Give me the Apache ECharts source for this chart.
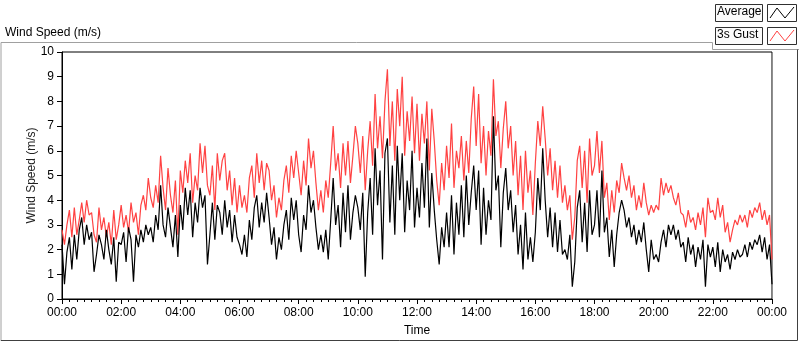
<!DOCTYPE html>
<html>
<head>
<meta charset="utf-8">
<script src="https://cdn.jsdelivr.net/npm/echarts@6/dist/echarts.min.js"></script>
<style>
  html, body { margin: 0; padding: 0; background: #fff; }
  #chart { width: 800px; height: 342px; }
</style>
</head>
<body>
<div id="chart"></div>
<script>
  // one sample every 5 minutes, 00:00 .. 24:00
  var stepMinutes = 5;

  var gust = [
    2.8, 2.2, 3.0, 3.6, 2.5, 3.7, 2.6, 3.2, 3.9, 3.1, 4.0, 3.4,
    3.5, 2.6, 2.3, 3.7, 2.8, 3.3, 2.5, 3.1, 2.2, 3.6, 2.4, 3.0,
    3.8, 2.9, 3.4, 2.7, 3.9, 3.1, 3.5, 2.6, 3.8, 4.2, 3.6, 4.9,
    4.1, 3.7, 4.6, 3.9, 5.8, 4.5, 3.6, 5.3, 4.2, 3.5, 4.8, 2.6,
    5.2, 4.3, 5.6, 4.7, 5.9, 3.9, 5.0, 4.4, 6.3, 5.1, 6.2, 4.6,
    4.2, 5.4, 3.6, 5.9, 4.8, 5.6, 5.9, 4.4, 5.2, 3.8, 4.9, 3.5,
    4.6, 3.7, 4.2, 3.5, 4.9, 5.4, 4.1, 5.9, 4.7, 5.6, 4.4, 5.5,
    5.2, 4.0, 4.6, 3.3, 4.1, 3.6, 4.8, 5.4, 4.3, 5.8, 4.9, 6.0,
    5.1, 4.2, 5.6, 4.6, 6.5, 5.3, 6.0, 4.7, 3.6, 4.4, 3.5, 4.8,
    4.1, 5.5, 7.0, 5.2, 5.9, 4.5, 6.3, 5.0, 6.4, 4.7, 5.8, 7.0,
    6.3, 5.1, 6.6, 4.4, 6.0, 7.2, 5.4, 8.3, 6.1, 7.4, 5.7, 8.0,
    9.3, 6.2, 8.0, 5.6, 8.5, 7.0, 9.0, 5.8, 7.6, 6.4, 8.2, 5.9,
    7.9, 5.6, 7.5, 6.3, 8.0, 5.2, 7.7, 6.4, 4.8, 3.8, 5.5, 4.4,
    6.2, 4.9, 7.1, 4.5, 6.0, 5.3, 6.6, 4.8, 6.4, 5.1, 7.3, 8.6,
    6.2, 8.3, 5.5, 7.0, 5.0, 6.8, 5.8, 8.9, 6.6, 7.2, 5.3, 6.9,
    8.0, 6.1, 7.0, 5.0, 6.4, 4.2, 5.8, 3.6, 6.0, 4.3, 5.2, 3.4,
    5.5, 7.2, 6.2, 7.8, 6.5, 5.0, 6.1, 4.4, 5.6, 4.1, 5.4, 3.9,
    4.6, 3.6, 4.2, 2.4, 3.3, 5.6, 6.2, 4.5, 6.0, 3.9, 6.5, 5.0,
    5.4, 6.8, 5.1, 6.4, 4.1, 4.7, 3.2, 4.4, 3.5, 4.8, 4.3, 5.5,
    4.9, 4.4, 5.0, 4.1, 4.6, 3.6, 4.2, 3.7, 4.7, 3.9, 3.4, 3.8,
    3.5, 3.8, 3.6, 4.9, 4.2, 4.7, 4.3, 4.6, 4.1, 3.8, 4.3, 3.5,
    3.4, 2.9, 3.6, 3.1, 3.3, 2.8, 3.5, 3.0, 3.7, 2.5, 4.1, 3.5,
    3.6, 3.2, 4.1, 3.3, 3.8, 2.7, 3.1, 2.3, 2.8, 3.2, 3.0, 3.4,
    3.1, 3.4, 2.9, 3.6, 3.3, 3.7, 3.5, 3.9, 3.2, 3.6, 3.0, 3.4,
    1.6
  ];

  var average = [
    2.2, 0.6, 1.9, 2.5, 1.2, 2.6, 1.6, 2.8, 3.3, 2.2, 3.0, 2.4,
    2.7, 1.1, 1.8, 2.6, 2.2, 1.6, 2.8, 2.0, 1.4, 2.5, 0.7, 2.3,
    2.2, 2.7, 1.5, 2.9, 2.4, 0.7, 2.6, 2.1, 2.8, 2.3, 3.0, 2.6,
    2.9, 2.3, 3.4, 2.8, 4.6, 3.0, 2.5, 3.7, 2.9, 2.1, 3.4, 1.7,
    3.8, 2.8, 4.5, 3.4, 4.4, 2.5, 3.9, 3.1, 4.5, 3.7, 4.2, 1.4,
    2.6, 3.9, 2.4, 3.8, 3.5, 2.6, 4.0, 2.9, 3.6, 2.3, 3.4, 2.5,
    2.2, 1.8, 2.6, 1.7, 3.2, 2.4, 3.7, 4.2, 2.9, 3.9, 3.1, 4.3,
    3.3, 2.2, 2.9, 1.6, 2.5, 2.0, 3.0, 3.6, 2.4, 4.1, 3.2, 4.0,
    2.6, 1.9, 3.4, 2.8, 4.6, 3.5, 4.0, 2.9, 2.0, 2.6, 1.9, 2.8,
    1.6, 3.2, 4.9, 3.0, 3.8, 2.1, 4.3, 2.7, 4.6, 2.4, 3.5, 4.2,
    3.7, 2.8, 4.3, 0.9, 3.5, 4.9, 2.6, 6.1, 3.8, 5.2, 1.6, 5.9,
    6.5, 3.1, 5.4, 2.6, 6.2, 4.0, 5.9, 2.7, 4.8, 3.6, 6.0, 2.9,
    4.5, 3.3, 5.5, 3.7, 6.5, 2.9, 5.1, 3.6, 2.4, 1.4, 2.9, 2.1,
    3.5, 2.1, 4.2, 1.8, 3.9, 2.6, 4.6, 2.5, 5.0, 3.0, 4.3, 5.4,
    3.6, 5.2, 2.2, 4.5, 2.6, 4.0, 3.2, 7.4, 4.4, 5.0, 2.1, 4.3,
    5.3, 3.6, 4.4, 2.7, 3.8, 1.8, 3.0, 1.2, 3.5, 1.6, 2.5, 1.5,
    2.7, 4.9, 3.6, 6.1, 4.0, 2.5, 3.7, 2.1, 3.5, 1.9, 3.2, 1.8,
    2.0, 1.6, 2.6, 0.5, 1.5, 3.7, 4.4, 2.3, 3.9, 1.9, 4.4, 2.6,
    3.0, 4.4, 2.5, 5.2, 2.7, 3.3, 1.7, 2.8, 1.3, 2.6, 3.5, 4.0,
    3.6, 2.9, 3.3, 2.5, 3.0, 2.2, 2.8, 2.3, 3.1, 2.0, 1.1, 2.4,
    1.6, 1.8, 1.5, 2.3, 2.8, 2.1, 3.0, 2.6, 3.0, 2.4, 2.8, 2.1,
    2.3, 1.5, 2.5, 1.8, 2.2, 1.3, 2.1, 1.6, 2.4, 0.5, 2.2, 1.7,
    2.1, 1.3, 2.3, 1.1, 2.0, 1.5, 1.8, 1.2, 1.9, 1.6, 2.0, 1.7,
    1.8, 2.2, 1.7, 2.3, 2.0, 2.4, 2.2, 2.6, 1.9, 2.5, 1.6, 2.2,
    0.6
  ];

  var timeLabels = ['00:00', '02:00', '04:00', '06:00', '08:00', '10:00', '12:00',
                    '14:00', '16:00', '18:00', '20:00', '22:00', '00:00'];

  function pairs(arr) {
    var out = [];
    for (var i = 0; i < arr.length; i++) out.push([i * stepMinutes, arr[i]]);
    return out;
  }

  var font = 'Liberation Sans';
  var chart = echarts.init(document.getElementById('chart'), null, { renderer: 'canvas' });

  var option = {
    animation: false,
    backgroundColor: '#fff',
    textStyle: { fontFamily: font },
    grid: {
      left: 62, right: 28, top: 52, bottom: 40,
      show: true, borderColor: '#000', borderWidth: 1, backgroundColor: '#fff'
    },
    xAxis: {
      type: 'value',
      min: 0, max: 1440, interval: 120,
      name: 'Time',
      nameLocation: 'middle',
      nameGap: 26,
      nameTextStyle: { fontFamily: font, fontSize: 12, color: '#000' },
      axisLine: { lineStyle: { color: '#000' } },
      axisTick: { length: 5, lineStyle: { color: '#000' } },
      minorTick: { show: true, splitNumber: 8, length: 3, lineStyle: { color: '#000' } },
      splitLine: { show: false },
      axisLabel: {
        margin: 8, fontFamily: font, fontSize: 12, color: '#000',
        formatter: function (v) { return timeLabels[Math.round(v / 120)]; }
      }
    },
    yAxis: {
      type: 'value',
      min: 0, max: 10, interval: 1,
      name: 'Wind Speed (m/s)',
      nameLocation: 'middle',
      nameGap: 24,
      nameMoveOverlap: false,
      nameTextStyle: { fontFamily: font, fontSize: 12, color: '#222' },
      axisLine: { show: true, lineStyle: { color: '#000' } },
      axisTick: { show: true, length: 5, lineStyle: { color: '#000' } },
      splitLine: { show: false },
      axisLabel: { margin: 8, fontFamily: font, fontSize: 12, color: '#000' }
    },
    series: [
      {
        name: '3s Gust', type: 'line', data: pairs(gust),
        showSymbol: false, lineStyle: { color: '#ff4242', width: 1.2 }
      },
      {
        name: 'Average', type: 'line', data: pairs(average),
        showSymbol: false, lineStyle: { color: '#000', width: 1.2 }
      }
    ],
    graphic: [
      // frame title and outer panel lines
      { type: 'text', left: 5, top: 27, style: { text: 'Wind Speed (m/s)', font: '12px "Liberation Sans"', fill: '#000' } },
      { type: 'polyline', shape: { points: [[1, 341], [1, 42.5], [712.5, 42.5], [712.5, 49.5], [799, 49.5]] },
        style: { stroke: '#a0a0a0', fill: null, lineWidth: 1 } },
      { type: 'polyline', shape: { points: [[797.5, 49.5], [797.5, 340.5], [1, 340.5]] },
        style: { stroke: '#404040', fill: null, lineWidth: 1 } },
      { type: 'line', shape: { x1: 772.5, y1: 52, x2: 772.5, y2: 302 }, style: { stroke: '#909090', lineWidth: 1 } },
      // legend
      { type: 'rect', shape: { x: 715.5, y: 4.5, width: 47, height: 17 }, style: { fill: '#fbfbfb', stroke: '#303030', lineWidth: 1 } },
      { type: 'text', left: 717, top: 6, style: { text: 'Average', font: '12px "Liberation Sans"', fill: '#000' } },
      { type: 'rect', shape: { x: 767.5, y: 4.5, width: 29, height: 17 }, style: { fill: '#fff', stroke: '#303030', lineWidth: 1 } },
      { type: 'polyline', shape: { points: [[770, 18], [777, 8], [785, 18], [794, 7]] }, style: { stroke: '#000', fill: null, lineWidth: 1 } },
      { type: 'rect', shape: { x: 715.5, y: 27.5, width: 47, height: 17 }, style: { fill: '#fbfbfb', stroke: '#303030', lineWidth: 1 } },
      { type: 'text', left: 717, top: 29, style: { text: '3s Gust', font: '12px "Liberation Sans"', fill: '#000' } },
      { type: 'rect', shape: { x: 767.5, y: 27.5, width: 29, height: 17 }, style: { fill: '#fff', stroke: '#303030', lineWidth: 1 } },
      { type: 'polyline', shape: { points: [[770, 41], [777, 31], [785, 41], [794, 30]] }, style: { stroke: '#ff4242', fill: null, lineWidth: 1 } }
    ]
  };

  chart.setOption(option);
</script>
</body>
</html>
